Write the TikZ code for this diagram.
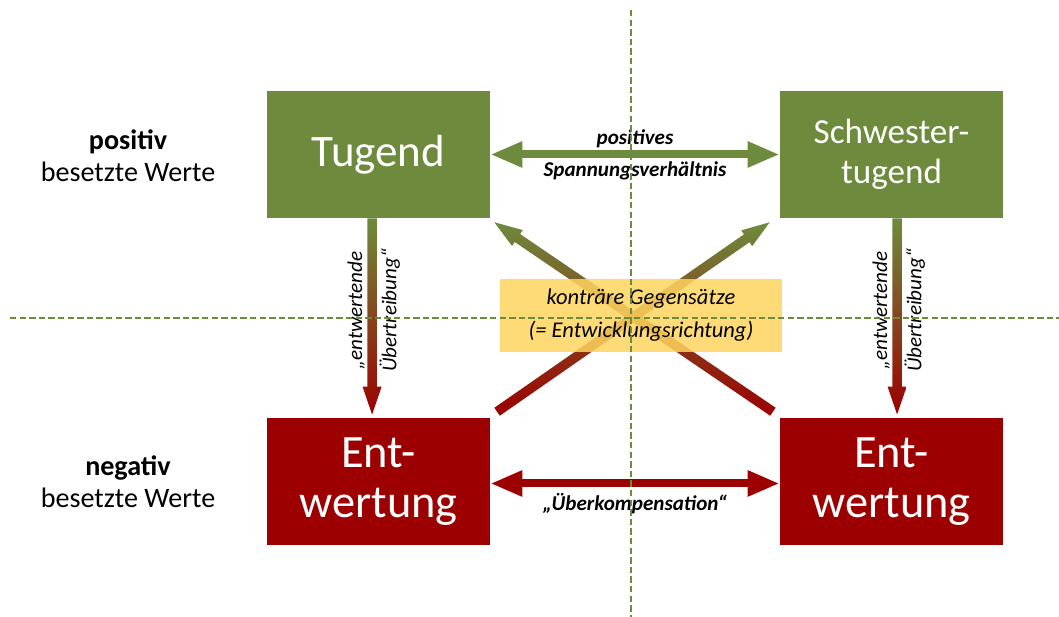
\documentclass[tikz,border=0pt]{standalone}
\usepackage{fontspec}
\setmainfont{Carlito}
\usetikzlibrary{calc,arrows.meta}
\definecolor{olive}{HTML}{6E8B3D}
\definecolor{darkred}{HTML}{9C0000}
\definecolor{gold}{HTML}{FFD55F}
\tikzset{
	posbox/.style={rectangle,fill=olive,text=white,minimum width=5.575cm,minimum height=3.175cm,align=center},
	negbox/.style={rectangle,fill=darkred,text=white,minimum width=5.575cm,minimum height=3.175cm,align=center},
	sidelabel/.style={align=center,font=\fontsize{20}{23}\selectfont},
	arrlabel/.style={font=\fontsize{15}{17}\selectfont\bfseries\itshape,inner sep=2pt},
	vlabel/.style={font=\fontsize{15}{17}\selectfont\itshape,rotate=90,inner sep=5pt},
	axisline/.style={olive,line width=1.8pt,dash pattern=on 0.16cm off 0.08cm},
	dblarrow/.style={line width=0.2cm,{Triangle[length=0.8cm,width=0.6cm]}-{Triangle[length=0.8cm,width=0.6cm]}}
}
% fat arrow from #1 to #2, filled with top colour green and bottom colour red
\newcommand{\fatarrow}[2]{%
	\coordinate (neck) at ($(#2)!0.7cm!(#1)$);
	\shade[top color=olive,bottom color=darkred]
		($(#1)!0.12cm!90:(#2)$) -- ($(neck)!0.12cm!90:(#2)$) -- ($(neck)!0.24cm!90:(#2)$) -- (#2)
		-- ($(neck)!0.24cm!-90:(#2)$) -- ($(neck)!0.12cm!-90:(#2)$) -- ($(#1)!0.12cm!-90:(#2)$) -- cycle;
}
\begin{document}
\begin{tikzpicture}
	\useasboundingbox (-15.775,-7.475) rectangle (10.7,7.95);
	% boxes
	\node[posbox,font=\fontsize{32}{35}\selectfont] (tug) at (-6.3125,4.0875) {Tugend};
	\node[posbox,font=\fontsize{25}{28}\selectfont] (schw) at (6.5125,4.0875) {Schwester-\\tugend};
	\node[negbox,font=\fontsize{33}{36}\selectfont] (entl) at (-6.3125,-4.0875) {Ent-\\wertung};
	\node[negbox,font=\fontsize{33}{36}\selectfont] (entr) at (6.5125,-4.0875) {Ent-\\wertung};
	% row labels
	\node[sidelabel] (pos) at (-12.575,4.05) {\textbf{positiv}\\besetzte Werte};
	\node[sidelabel] (neg) at (-12.575,-4.1) {\textbf{negativ}\\besetzte Werte};
	% horizontal arrows
	\draw[dblarrow,olive] (tug) -- (schw) node[midway,above,arrlabel,text=black]{positives}
		node[midway,below,arrlabel,text=black]{Spannungsverhältnis};
	\draw[dblarrow,darkred] ($(entl.east)+(0,-0.05)$) -- ($(entr.west)+(0,-0.05)$)
		node[midway,below=2pt,arrlabel,text=black]{„Überkompensation“};
	% vertical arrows
	\coordinate (ltop) at ($(tug.south)+(-0.16,0)$);
	\coordinate (lbot) at ($(entl.north)+(-0.16,0.08)$);
	\coordinate (rtop) at ($(schw.south)+(0.14,0)$);
	\coordinate (rbot) at ($(entr.north)+(0.14,0.08)$);
	\fatarrow{ltop}{lbot}
	\fatarrow{rtop}{rbot}
	\path (ltop) -- (lbot) node[midway,vlabel,anchor=south,xshift=0.15cm]{„entwertende}
		node[midway,vlabel,anchor=north,xshift=0.15cm]{Übertreibung“};
	\path (rtop) -- (rbot) node[midway,vlabel,anchor=south,xshift=0.15cm]{„entwertende}
		node[midway,vlabel,anchor=north,xshift=0.15cm]{Übertreibung“};
	% diagonal arrows
	\coordinate (dlt) at ($(entl.north east)+(0.17,0.15)$);
	\coordinate (dlh) at ($(schw.south west)+(-0.25,-0.1)$);
	\coordinate (drt) at ($(entr.north west)+(-0.17,0.15)$);
	\coordinate (drh) at ($(tug.south east)+(0.1,-0.1)$);
	\fatarrow{dlt}{dlh}
	\fatarrow{drt}{drh}
	% middle box
	\node[fill=gold,fill opacity=0.85,text opacity=1,minimum width=7.05cm,minimum height=1.825cm,align=center,
		font=\fontsize{16}{23.5}\selectfont\itshape] (kon) at (0.25,0.06) {konträre Gegensätze\\(= Entwicklungsrichtung)};
	% axes
	\draw[axisline] (0,7.7) -- (0,-7.475);
	\draw[axisline] (-15.525,0) -- (10.7,0);
\end{tikzpicture}
\end{document}
